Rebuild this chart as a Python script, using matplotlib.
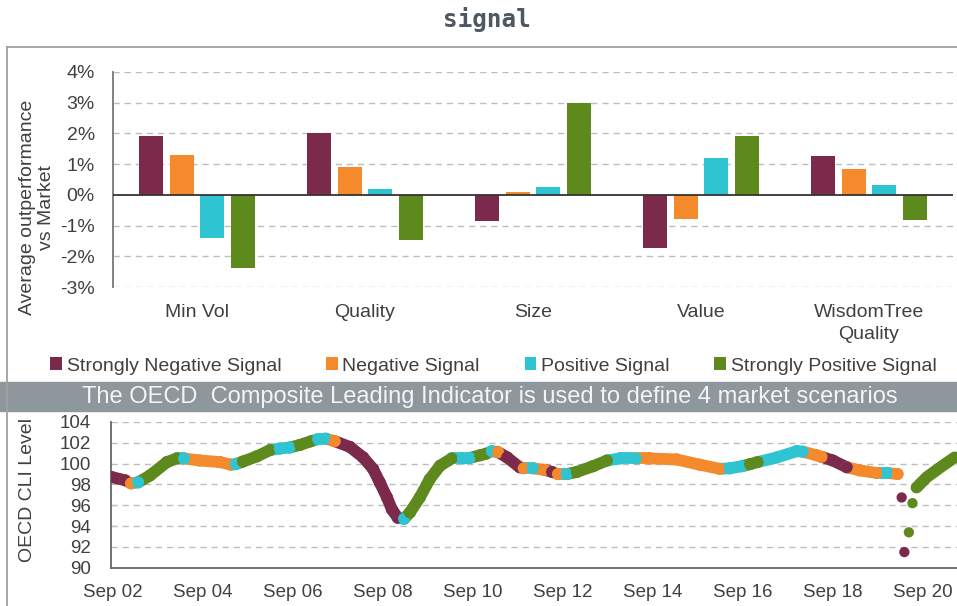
import matplotlib
matplotlib.use("Agg")
import matplotlib.pyplot as plt
from matplotlib.patches import Rectangle
from matplotlib.lines import Line2D

plt.rcParams['font.family'] = ['Liberation Sans', 'DejaVu Sans']

# bar chart data (average outperformance vs market, %)
factors = ['Min Vol', 'Quality', 'Size', 'Value', 'WisdomTree\nQuality']
signals = ['Strongly Negative Signal', 'Negative Signal', 'Positive Signal', 'Strongly Positive Signal']
strongly_negative = [1.92, 2.01, -0.86, -1.73, 1.27]
negative = [1.31, 0.92, 0.08, -0.79, 0.84]
positive = [-1.39, 0.20, 0.24, 1.21, 0.33]
strongly_positive = [-2.37, -1.48, 3.00, 1.93, -0.82]

# OECD CLI level (year, level, signal code)
# codes: 0 strongly negative, 1 negative, 2 positive, 3 strongly positive
cli_year = [2002.65, 2002.94, 2003.07, 2003.23, 2003.49, 2003.87, 2004.09, 2004.25,
            2004.60, 2005.05, 2005.29, 2005.40, 2005.56, 2005.87, 2006.16, 2006.38,
            2006.60, 2006.83, 2007.07, 2007.23, 2007.40, 2007.60, 2007.94, 2008.23,
            2008.45, 2008.60, 2008.76, 2008.87, 2009.00, 2009.14, 2009.27, 2009.49,
            2009.71, 2009.94, 2010.20, 2010.45, 2010.60, 2010.83, 2010.96, 2011.09,
            2011.23, 2011.43, 2011.71, 2011.80, 2012.00, 2012.27, 2012.43, 2012.56,
            2012.76, 2012.98, 2013.34, 2013.65, 2013.94, 2014.29, 2014.60, 2015.20,
            2015.71, 2016.16, 2016.38, 2016.65, 2016.83, 2017.00, 2017.43, 2017.87,
            2018.00, 2018.31, 2018.42, 2018.67, 2018.98, 2019.27, 2019.65, 2019.89,
            2020.11]
cli_level = [98.7, 98.4, 98.1, 98.2, 98.85, 100.15, 100.5, 100.5,
             100.3, 100.15, 99.9, 99.95, 100.2, 100.7, 101.3, 101.45,
             101.55, 101.8, 102.15, 102.35, 102.4, 102.15, 101.6, 100.6,
             99.5, 98.2, 96.75, 95.6, 94.8, 94.7, 95.3, 96.75,
             98.5, 99.8, 100.5, 100.5, 100.55, 100.8, 100.95, 101.2,
             101.1, 100.6, 99.65, 99.55, 99.55, 99.4, 99.2, 99.0,
             99.0, 99.2, 99.75, 100.3, 100.5, 100.5, 100.5, 100.4,
             99.9, 99.5, 99.55, 99.75, 99.95, 100.15, 100.6, 101.2,
             101.15, 100.8, 100.65, 100.3, 99.65, 99.35, 99.1, 99.1,
             99.0]
cli_signal = [0, 0, 1, 2, 3, 3, 3, 2,
              1, 1, 1, 2, 3, 3, 3, 2,
              2, 3, 3, 2, 2, 1, 0, 0,
              0, 0, 0, 0, 0, 2, 3, 3,
              3, 3, 3, 2, 2, 3, 3, 2,
              1, 0, 0, 1, 2, 1, 0, 1,
              2, 3, 3, 3, 2, 2, 1, 1,
              1, 1, 2, 2, 3, 3, 2, 2,
              2, 1, 1, 0, 0, 1, 1, 2,
              1]
# 2020 monthly points that stand apart
covid_year = [2020.20, 2020.26, 2020.36, 2020.44]
covid_level = [96.75, 91.5, 93.4, 96.2]
covid_signal = [0, 0, 3, 3]
# recovery
rec_year = [2020.53, 2020.76, 2021.11, 2021.38]
rec_level = [97.7, 98.7, 99.8, 100.6]

years = ['Sep 02', 'Sep 04', 'Sep 06', 'Sep 08', 'Sep 10',
         'Sep 12', 'Sep 14', 'Sep 16', 'Sep 18', 'Sep 20']
year_pos = [2002.67 + 2 * i for i in range(10)]

colors = ['#7B2A4B', '#F48A2C', '#2EC4D2', '#5E8A1D']
text_c = '#404040'
grid_c = '#BDBDBD'
W, H = 957, 606

fig = plt.figure(figsize=(W / 100, H / 100), dpi=100)

# title and frame
fig.text(487 / W, 1 - 20 / H, 'signal', family='DejaVu Sans Mono', weight='bold',
         fontsize=17.5, color='#4E5862', ha='center', va='center')
fig.add_artist(Line2D([7 / W, 1], [1 - 47 / H, 1 - 47 / H], color='#A0A0A0', lw=1.3))
fig.add_artist(Line2D([7.5 / W, 7.5 / W], [0, 1 - 47 / H], color='#A0A0A0', lw=1.3))

# ---- bar chart
ax = fig.add_axes([113 / W, 1 - 287 / H, 840 / W, 215 / H])
series = [strongly_negative, negative, positive, strongly_positive]
x = range(len(factors))
bars = []
for i, vals in enumerate(series):
    b = ax.bar([k + (i - 1.5) * 0.182 for k in x], vals, width=0.145,
               color=colors[i], label=signals[i], zorder=3)
    bars.append(b)
ax.set_xlim(-0.5, 4.5)
ax.set_ylim(-3, 4)
ax.set_yticks(range(-3, 5))
ax.set_yticklabels([f'{v}%' for v in range(-3, 5)])
for v in range(-3, 5):
    if v != 0:
        ax.axhline(v, color=grid_c, lw=1, ls=(0, (4.5, 3.5)), zorder=1)
ax.axhline(0, color='#333333', lw=1.3, zorder=4)
ax.set_xticks(list(x))
ax.tick_params(axis='x', length=0, pad=12, labelsize=14, colors=text_c)
ax.tick_params(axis='y', length=0, pad=13, labelsize=14, colors=text_c)
ax.set_xticklabels(factors, linespacing=1.4)
for s in ['top', 'right', 'bottom']:
    ax.spines[s].set_visible(False)
ax.spines['left'].set_color('#777777')
ax.spines['left'].set_linewidth(1.3)
fig.text(37 / W, 1 - 207 / H, 'Average outperformance\nvs Market', rotation=90,
         ha='center', va='center', multialignment='center', fontsize=14, color=text_c)

fig.legend(handles=bars, labels=signals, ncol=4, loc='center left',
           bbox_to_anchor=(50 / W, 1 - 366 / H), frameon=False, fontsize=14,
           handlelength=0.6, handleheight=0.6, handletextpad=0.25,
           columnspacing=2.3, borderpad=0, borderaxespad=0, labelcolor=text_c)

# banner
fig.add_artist(Rectangle((0, 1 - 411 / H), 1, 29 / H, transform=fig.transFigure,
                         color='#8E989C', zorder=0))
fig.text(490 / W, 1 - 396.5 / H,
         'The OECD  Composite Leading Indicator is used to define 4 market scenarios',
         ha='center', va='center', fontsize=17, color='#F2F5F6')

# ---- CLI chart
ax2 = fig.add_axes([110.7 / W, 1 - 567.7 / H, (W - 110.7) / W, (567.7 - 422) / H])
for v in range(92, 105, 2):
    ax2.axhline(v, color=grid_c, lw=1, ls=(0, (4.5, 3.5)), zorder=1)
for i in range(1, len(cli_year)):
    ax2.plot(cli_year[i - 1:i + 1], cli_level[i - 1:i + 1], color=colors[cli_signal[i]],
             lw=8.5, solid_capstyle='round', zorder=3)
ax2.scatter(cli_year, cli_level, s=75, c=[colors[k] for k in cli_signal],
            edgecolors='none', zorder=4)
ax2.plot(rec_year, rec_level, color=colors[3], lw=8.5, solid_capstyle='round', zorder=3)
ax2.scatter(covid_year, covid_level, s=55, c=[colors[k] for k in covid_signal],
            edgecolors='none', zorder=4)
ax2.set_xlim(2002.62, 2021.43)
ax2.set_ylim(90, 104)
ax2.set_yticks(range(90, 105, 2))
ax2.set_xticks(year_pos)
ax2.set_xticklabels(years)
ax2.tick_params(axis='y', length=0, pad=14, labelsize=13.5, colors=text_c)
ax2.tick_params(axis='x', length=0, pad=12, labelsize=13.5, colors=text_c)
for s in ['top', 'right']:
    ax2.spines[s].set_visible(False)
for s in ['left', 'bottom']:
    ax2.spines[s].set_color('#666666')
    ax2.spines[s].set_linewidth(1.3)
fig.text(28 / W, 1 - 490 / H, 'OECD CLI Level', rotation=90, ha='center', va='center',
         fontsize=14, color=text_c)

fig.savefig('out.png', dpi=100)
